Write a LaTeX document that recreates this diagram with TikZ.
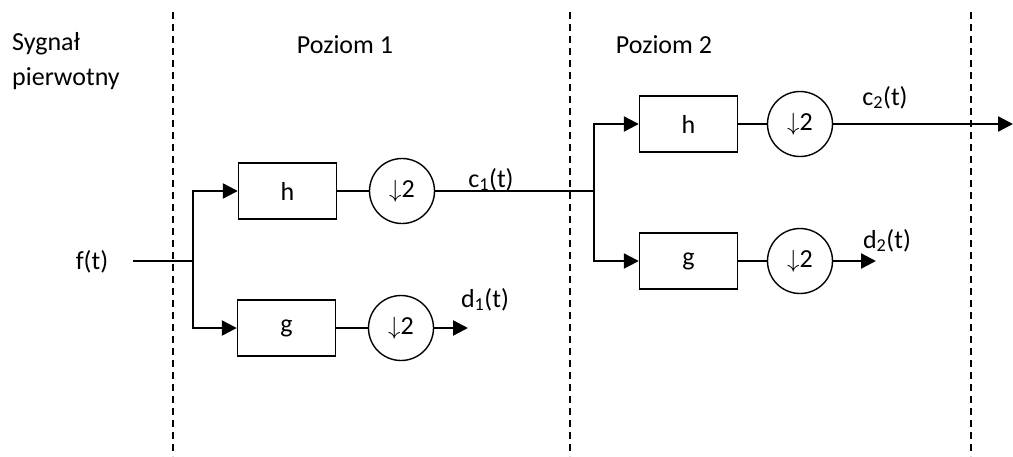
\documentclass[tikz,border=0pt]{standalone}
\usepackage{fontspec}
\setmainfont{Carlito}
\usetikzlibrary{arrows.meta}
\begin{document}
\begin{tikzpicture}[x=1pt,y=-1pt,
  every node/.style={font=\fontsize{26}{30}\selectfont, inner sep=0pt},
  blk/.style={draw, line width=1.4pt, minimum width=98pt, minimum height=56pt},
  dn/.style={draw, circle, line width=1.4pt, minimum size=65pt},
  thinln/.style={line width=1.4pt},
  arr/.style={line width=2.3pt, -{Triangle[length=15pt,width=15pt]}},
  sep/.style={line width=1.6pt, dash pattern=on 7pt off 5pt},
  lbl/.style={anchor=base}]
\useasboundingbox (0,0) rectangle (1013,456);
% separators
\coordinate (s1t) at (173,12); \coordinate (s1b) at (173,456);
\coordinate (s2t) at (570,12); \coordinate (s2b) at (570,456);
\coordinate (s3t) at (971,12); \coordinate (s3b) at (971,456);
\draw[sep] (s1t) -- (s1b);
\draw[sep] (s2t) -- (s2b);
\draw[sep] (s3t) -- (s3b);
% texts
\node[anchor=base west] (sy) at (12,50) {Sygnał};
\node[anchor=base west] (pw) at (12,85) {pierwotny};
\node[lbl] (p1) at (345,53) {Poziom 1};
\node[lbl] (p2) at (664,53) {Poziom 2};
% level 1
\node[blk] (h1) at (287.5,191) {h};
\node[dn] (c1) at (402,191) {$\downarrow$2};
\node[blk] (g1) at (286.5,328) {g};
\node[dn] (d1) at (401,328) {$\downarrow$2};
\coordinate (in) at (133,261);
\coordinate (j1) at (193,261);
\node[lbl] (ft) at (92,269) {f(t)};
\draw[thinln] (in) -- (j1);
\draw[arr] (j1) |- (h1.west);
\draw[arr] (j1) |- (g1.west);
\draw[thinln] (h1) -- (c1);
\draw[thinln] (g1) -- (d1);
\coordinate (j2) at (594,191);
\draw[thinln] (c1) -- (j2);
\node[lbl] (c1t) at (491,187) {c\textsubscript{1}(t)};
\coordinate (d1e) at (468,328);
\draw[arr] (d1) -- (d1e);
\node[lbl] (d1t) at (485,307) {d\textsubscript{1}(t)};
% level 2
\node[blk] (h2) at (688.5,124) {h};
\node[dn] (c2) at (800,124) {$\downarrow$2};
\node[blk] (g2) at (688.5,261) {g};
\node[dn] (d2) at (800,261) {$\downarrow$2};
\draw[arr] (j2) |- (h2.west);
\draw[arr] (j2) |- (g2.west);
\draw[thinln] (h2) -- (c2);
\draw[thinln] (g2) -- (d2);
\coordinate (c2e) at (1013,124);
\draw[arr] (c2) -- (c2e);
\node[lbl] (c2t) at (885,105) {c\textsubscript{2}(t)};
\coordinate (d2e) at (876,261);
\draw[arr] (d2) -- (d2e);
\node[lbl] (d2t) at (887,248) {d\textsubscript{2}(t)};
\end{tikzpicture}
\end{document}
